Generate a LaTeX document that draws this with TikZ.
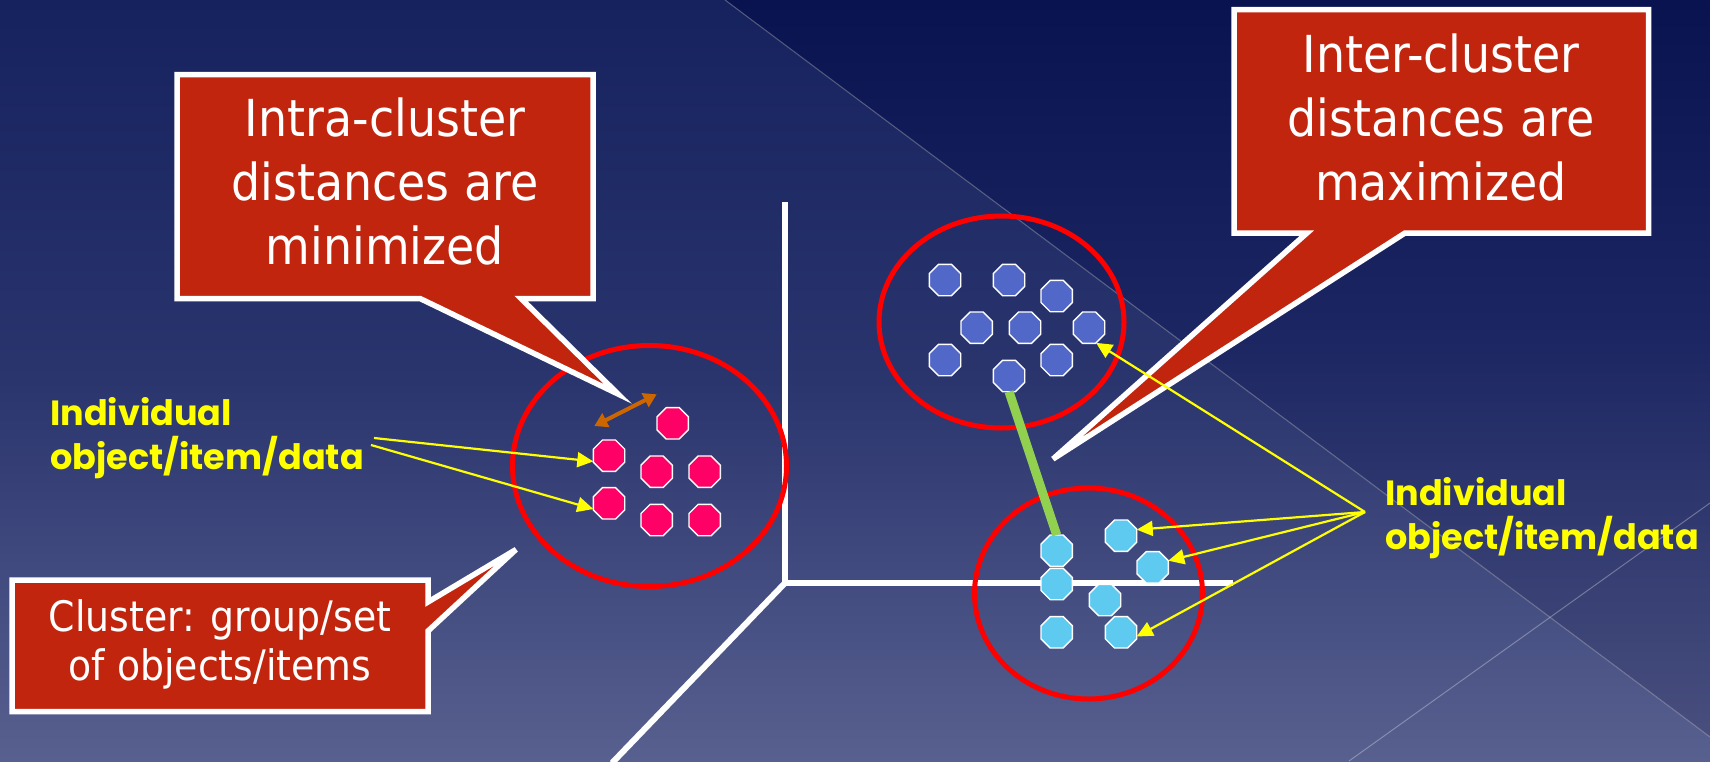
\documentclass[tikz,border=0pt]{standalone}
\usepackage{fontspec}
\setmainfont{DejaVu Sans Condensed}
\newfontfamily\labelfont{Poppins}
\usetikzlibrary{shapes.geometric,arrows.meta}

\definecolor{bgtop}{RGB}{22,34,94}
\definecolor{bgmid}{RGB}{42,53,110}
\definecolor{bgbot}{RGB}{88,96,143}
\definecolor{tritop}{RGB}{8,19,80}
\definecolor{trimid}{RGB}{28,38,98}
\definecolor{tribot}{RGB}{72,79,126}
\definecolor{calloutred}{RGB}{193,37,14}
\definecolor{ringred}{RGB}{255,0,0}
\definecolor{dotpink}{RGB}{255,0,102}
\definecolor{dotblue}{RGB}{82,104,200}
\definecolor{dotcyan}{RGB}{94,202,240}
\definecolor{gapbrown}{RGB}{204,102,0}
\definecolor{linkgreen}{RGB}{146,208,80}
\definecolor{labelyellow}{RGB}{255,255,0}

% TikZ maps the band 25bp..75bp of a shading onto the filled area
\pgfdeclareverticalshading{bgshade}{100bp}{color(0bp)=(bgbot); color(25bp)=(bgbot);
  color(50bp)=(bgmid); color(75bp)=(bgtop); color(100bp)=(bgtop)}
\pgfdeclareverticalshading{trishade}{100bp}{color(0bp)=(tribot); color(25bp)=(tribot);
  color(52bp)=(trimid); color(75bp)=(tritop); color(100bp)=(tritop)}

\begin{document}
\begin{tikzpicture}[x=1pt,y=-1pt,
  oct/.style={regular polygon, regular polygon sides=8, minimum size=34pt,
    inner sep=0pt, outer sep=0pt, draw=white, line width=1.4pt},
  pinkdot/.style={oct, fill=dotpink},
  bluedot/.style={oct, fill=dotblue},
  cyandot/.style={oct, fill=dotcyan},
  clusterring/.style={draw=ringred, line width=5pt},
  axisline/.style={draw=white, line width=6pt},
  callout/.style={fill=calloutred, draw=white, line width=5.5pt, line join=miter},
  bigtext/.style={text=white, anchor=base, inner sep=0pt, font=\fontsize{51}{64}\selectfont},
  smalltext/.style={text=white, anchor=base, inner sep=0pt, font=\fontsize{42}{49}\selectfont},
  labeltext/.style={text=labelyellow, anchor=base west, inner sep=0pt,
    font=\labelfont\bfseries\fontsize{35}{44}\selectfont},
  pointer/.style={draw=labelyellow, line width=2.2pt, -{Triangle[length=16pt,width=15pt]}},
  gaparrow/.style={draw=gapbrown, line width=4pt,
    {Triangle[length=13pt,width=15pt]}-{Triangle[length=13pt,width=15pt]}},
  link/.style={draw=linkgreen, line width=9pt}
]
\useasboundingbox (0,0) rectangle (1710,761);
\clip (0,0) rectangle (1710,761);

% backdrop
\fill[shading=bgshade] (0,0) rectangle (1710,761);
\fill[shading=trishade] (725,0) -- (1710,0) -- (1710,737) -- cycle;
\draw[white, opacity=0.3, line width=1pt] (725,0) -- (1710,737);
\draw[white, opacity=0.3, line width=1pt] (1710,503) -- (1349,761);

% axes
\draw[axisline] (785,202) -- (785,583) -- (1233,583);
\draw[axisline] (785,583) -- (612,763);

% cluster rings
\draw[clusterring] (649.5,466) ellipse [x radius=137, y radius=120.5];
\draw[clusterring] (1001.5,322) ellipse [x radius=122.5, y radius=106];
\draw[clusterring] (1088.5,593.5) ellipse [x radius=114, y radius=105.5];

% points of the first cluster
\node[pinkdot] (p1) at (672.7,423.3) {};
\node[pinkdot] (p2) at (609,455.7) {};
\node[pinkdot] (p3) at (656.7,471.7) {};
\node[pinkdot] (p4) at (704.7,471.7) {};
\node[pinkdot] (p5) at (609,503.3) {};
\node[pinkdot] (p6) at (656.7,520) {};
\node[pinkdot] (p7) at (704.7,520) {};

% points of the second cluster
\node[bluedot] (b1) at (945,280) {};
\node[bluedot] (b2) at (1009,280) {};
\node[bluedot] (b3) at (1056.7,296) {};
\node[bluedot] (b4) at (976.7,327.7) {};
\node[bluedot] (b5) at (1025,327.7) {};
\node[bluedot] (b6) at (1089,327.7) {};
\node[bluedot] (b7) at (945,360) {};
\node[bluedot] (b8) at (1056.7,360) {};
\node[bluedot] (b9) at (1009,376) {};

% points of the third cluster
\node[cyandot] (c1) at (1056.7,550.7) {};
\node[cyandot] (c2) at (1056.7,584) {};
\node[cyandot] (c3) at (1121,535.7) {};
\node[cyandot] (c4) at (1152.7,567.3) {};
\node[cyandot] (c5) at (1105,600) {};
\node[cyandot] (c6) at (1056.7,632.3) {};
\node[cyandot] (c7) at (1121,632.3) {};

% distance between clusters
\draw[link] (b9.south) -- (c1.north);

% distance inside a cluster
\coordinate (g1) at (594.3,426);
\coordinate (g2) at (656.7,394.3);
\draw[gaparrow] (g1) -- (g2);

% callouts
\draw[callout] (177,74.5) -- (593,74.5) -- (593,298.5) -- (521,298.5) -- (618,394)
  -- (420,298.5) -- (177,298.5) -- cycle;
\node[bigtext] (intra1) at (385,136) {Intra-cluster};
\node[bigtext] (intra2) at (385,200) {distances are};
\node[bigtext] (intra3) at (385,264.6) {minimized};

\draw[callout, miter limit=5] (1234,9.7) -- (1648.7,9.7) -- (1648.7,233) -- (1405,233)
  -- (1053,459) -- (1307,233) -- (1234,233) -- cycle;
\node[bigtext] (inter1) at (1441,72.8) {Inter-cluster};
\node[bigtext] (inter2) at (1441,136) {distances are};
\node[bigtext] (inter3) at (1441,200) {maximized};

\draw[callout, miter limit=5] (12,580) -- (428,580) -- (428,602) -- (516,549.5)
  -- (428,631) -- (428,711.5) -- (12,711.5) -- cycle;
\node[smalltext] (clu1) at (220,631) {Cluster: group/set};
\node[smalltext] (clu2) at (220,680) {of objects/items};

% item labels and their pointers
\node[labeltext] (lab1) at (50,425) {Individual};
\node[labeltext] (lab2) at (50,469) {object/item/data};
\coordinate (ls1) at (374,438);
\coordinate (ls2) at (371,445);
\draw[pointer] (ls1) -- (p2.200);
\draw[pointer] (ls2) -- (p5.200);

\node[labeltext] (rab1) at (1385,505) {Individual};
\node[labeltext] (rab2) at (1385,549) {object/item/data};
\coordinate (rs) at (1365,512);
\draw[pointer] (rs) -- (b6.295);
\draw[pointer] (rs) -- (c3.21);
\draw[pointer] (rs) -- (c4.23);
\draw[pointer] (rs) -- (c7.345);
\end{tikzpicture}
\end{document}
